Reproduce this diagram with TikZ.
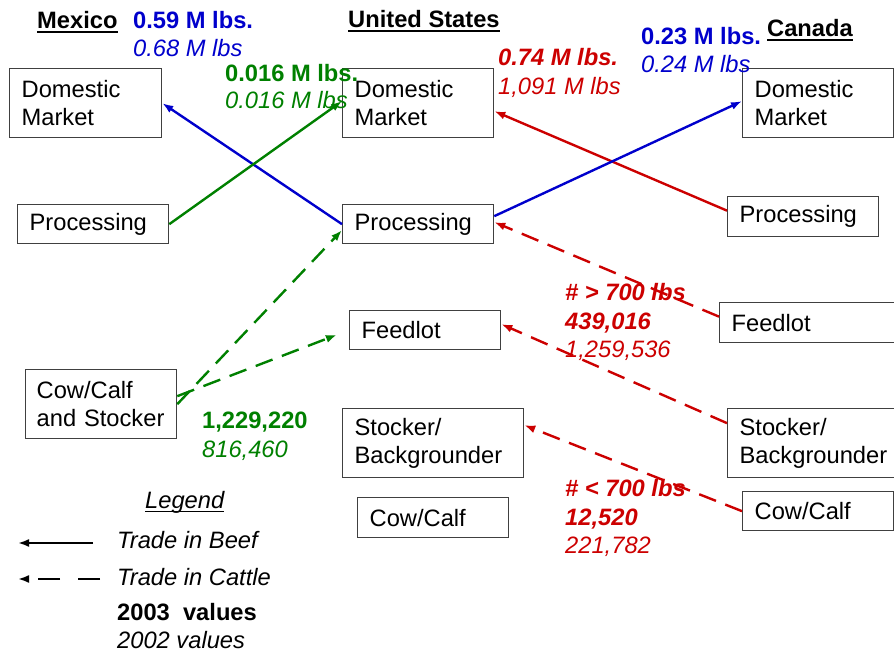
\documentclass[tikz,border=0pt]{standalone}
\usepackage{fontspec}
\setmainfont{Liberation Sans}
\usetikzlibrary{arrows.meta}

\definecolor{beefblue}{RGB}{0,0,204}
\definecolor{cattlegreen}{RGB}{0,128,0}
\definecolor{canred}{RGB}{204,0,0}
\definecolor{boxgray}{RGB}{64,64,64}
\newcommand{\labelfont}{\fontsize{23.7}{27.5}\selectfont}

\begin{document}
\begin{tikzpicture}[x=1pt,y=-1pt,>={Latex[length=11pt,width=8pt]}]
        % boxes, legend and flows of the three countries
        \tikzstyle{block} = [draw=boxgray,line width=1.3pt,rectangle,anchor=north west,align=left,inner xsep=12pt,inner ysep=0pt,font=\labelfont];
        \tikzstyle{title} = [anchor=base west,inner sep=0pt,font=\labelfont\bfseries];
        \tikzstyle{now} = [anchor=base west,inner sep=0pt,font=\labelfont\bfseries];
        \tikzstyle{before} = [anchor=base west,inner sep=0pt,font=\labelfont\itshape];
        \tikzstyle{beef} = [line width=2.4pt,->];
        \tikzstyle{cattle} = [line width=2.4pt,->,dash pattern=on 18pt off 10pt];

        \useasboundingbox (0,0) rectangle (894,656);

        % Mexico
        \node[title] (mexico) at (37,28) {Mexico};
        \node[block,text width=128pt,minimum height=69pt] (mx_dom) at (9,68) {Domestic\\Market};
        \node[block,text width=127pt,minimum height=39pt] (mx_proc) at (17,204) {Processing};
        \node[block,text width=135pt,inner xsep=8pt,minimum height=69pt] (mx_cow) at (25,369) {\hspace*{3pt}Cow/Calf\\\hspace*{3pt}and Stocker};

        % United States
        \node[title] (us) at (348,27) {United States};
        \node[block,text width=127pt,minimum height=69pt] (us_dom) at (342,68) {Domestic\\Market};
        \node[block,text width=127pt,minimum height=39pt] (us_proc) at (342,204) {Processing};
        \node[block,text width=127pt,minimum height=39pt] (us_feed) at (349,310) {Feedlot};
        \node[block,text width=157pt,minimum height=69pt] (us_stock) at (342,408) {Stocker/\\Backgrounder};
        \node[block,text width=127pt,minimum height=40pt] (us_cow) at (357,497) {Cow/Calf};

        % Canada
        \node[title] (canada) at (767,36) {Canada};
        \node[block,text width=127pt,minimum height=69pt] (ca_dom) at (742,68) {Domestic\\Market};
        \node[block,text width=127pt,minimum height=40pt] (ca_proc) at (727,196) {Processing};
        \node[block,text width=152pt,minimum height=40pt] (ca_feed) at (719,302) {Feedlot};
        \node[block,text width=143pt,minimum height=69pt] (ca_stock) at (727,408) {Stocker/\\Backgrounder};
        \node[block,text width=127pt,minimum height=39pt] (ca_cow) at (742,491) {Cow/Calf};

        \foreach \c in {mexico,us,canada}
            \draw[line width=1.8pt] ([yshift=-3.6pt]\c.base west) -- ([yshift=-3.6pt]\c.base east);

        % flows
        \draw[beef,beefblue] (us_proc.west) -- (mx_dom.east);
        \draw[beef,cattlegreen] (mx_proc.east) -- ([yshift=2pt]us_dom.west);
        \draw[beef,canred] ([yshift=6pt]ca_proc.west) -- ([yshift=-8pt]us_dom.east);
        \draw[beef,beefblue] ([yshift=8pt]us_proc.east) -- ([yshift=2pt]ca_dom.west);
        \draw[cattle,cattlegreen] (mx_cow.east) -- ([yshift=-6pt]us_proc.west);
        \draw[cattle,cattlegreen,shorten >=13pt] ([yshift=8pt]mx_cow.east) -- (us_feed.west);
        \draw[cattle,canred] ([yshift=6pt]ca_feed.west) -- ([yshift=2pt]us_proc.east);
        \draw[cattle,canred] ([yshift=20pt]ca_stock.west) -- ([yshift=6pt]us_feed.east);
        \draw[cattle,canred] (ca_cow.west) -- ([yshift=18pt]us_stock.east);

        % values
        \node[now,beefblue] (mx_beef_now) at (133,28) {0.59 M lbs.};
        \node[before,beefblue] (mx_beef_old) at (133,56) {0.68 M lbs};
        \node[now,cattlegreen] (us_beef_now) at (225,81) {0.016 M lbs.};
        \node[before,cattlegreen] (us_beef_old) at (225,108) {0.016 M lbs};
        \node[now,canred,font=\labelfont\bfseries\itshape] (ca_beef_now) at (498,65) {0.74 M lbs.};
        \node[before,canred] (ca_beef_old) at (498,94) {1,091 M lbs};
        \node[now,beefblue] (can_beef_now) at (641,44) {0.23 M lbs.};
        \node[before,beefblue] (can_beef_old) at (641,72) {0.24 M lbs};
        \node[now,canred,font=\labelfont\bfseries\itshape] (heavy) at (565,300) {\# > 700 lbs};
        \node[now,canred,font=\labelfont\bfseries\itshape] (heavy_now) at (565,329) {439,016};
        \node[before,canred] (heavy_old) at (565,357) {1,259,536};
        \node[now,cattlegreen] (mx_cattle_now) at (202,428) {1,229,220};
        \node[before,cattlegreen] (mx_cattle_old) at (202,457) {816,460};
        \node[now,canred,font=\labelfont\bfseries\itshape] (light) at (565,496) {\# < 700 lbs};
        \node[now,canred,font=\labelfont\bfseries\itshape] (light_now) at (565,525) {12,520};
        \node[before,canred] (light_old) at (565,553) {221,782};

        % legend
        \node[before] (legend) at (145,508) {Legend};
        \draw[line width=1.1pt] ([yshift=-3.5pt]legend.base west) -- ([yshift=-3.5pt]legend.base east);
        \coordinate (beef_a) at (93,543);
        \coordinate (beef_b) at (18,543);
        \coordinate (cattle_a) at (100,579);
        \coordinate (cattle_b) at (18,579);
        \draw[line width=2pt,->] (beef_a) -- (beef_b);
        \draw[line width=2pt,->,dash pattern=on 22pt off 18pt] (cattle_a) -- (cattle_b);
        \node[before] (beef_txt) at (117,548) {Trade in Beef};
        \node[before] (cattle_txt) at (117,585) {Trade in Cattle};
        \node[now] (year_now) at (117,620) {2003\ \ values};
        \node[before] (year_old) at (117,648) {2002 values};

    \end{tikzpicture}
\end{document}
